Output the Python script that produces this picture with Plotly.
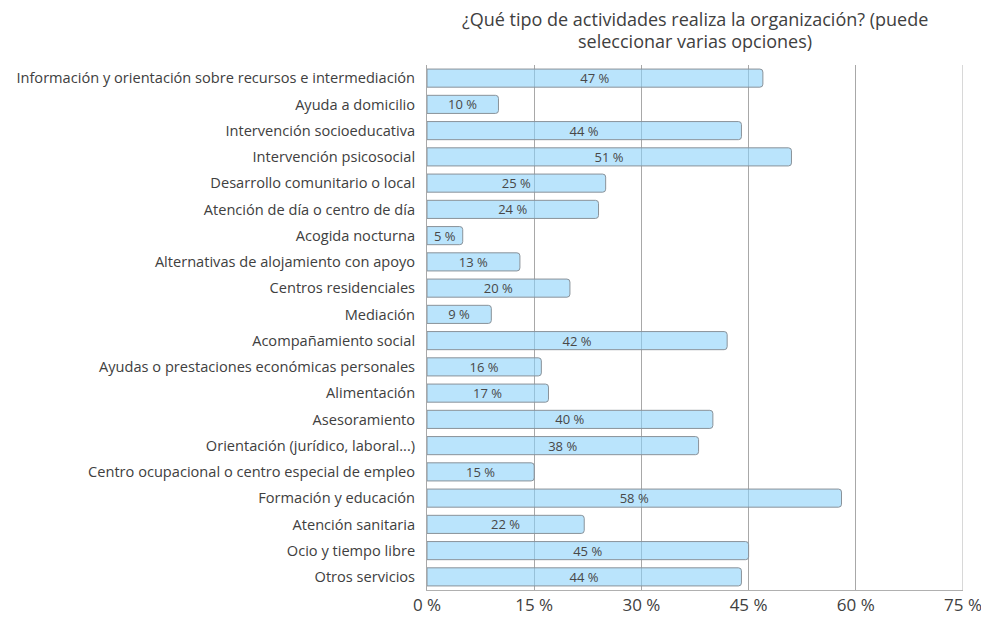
import plotly.graph_objects as go

categories = [
    "Información y orientación sobre recursos e intermediación",
    "Ayuda a domicilio",
    "Intervención socioeducativa",
    "Intervención psicosocial",
    "Desarrollo comunitario o local",
    "Atención de día o centro de día",
    "Acogida nocturna",
    "Alternativas de alojamiento con apoyo",
    "Centros residenciales",
    "Mediación",
    "Acompañamiento social",
    "Ayudas o prestaciones económicas personales",
    "Alimentación",
    "Asesoramiento",
    "Orientación (jurídico, laboral...)",
    "Centro ocupacional o centro especial de empleo",
    "Formación y educación",
    "Atención sanitaria",
    "Ocio y tiempo libre",
    "Otros servicios",
]
values = [47, 10, 44, 51, 25, 24, 5, 13, 20, 9, 42, 16, 17, 40, 38, 15, 58, 22, 45, 44]
tick_vals = [0, 15, 30, 45, 60, 75]
tick_text = ["0 %", "15 %", "30 %", "45 %", "60 %", "75 %"]
title_lines = ["¿Qué tipo de actividades realiza la organización? (puede",
               "seleccionar varias opciones)"]

FONT = "'Open Sans', 'Noto Sans', sans-serif"
TXT = "#404040"

# page body has an 8px default margin, so the figure is sized to the visible area
W, H = 981, 609

fig = go.Figure(go.Bar(
    x=values,
    y=categories,
    orientation="h",
    text=[f"{v} %" for v in values],
    textposition="inside",
    insidetextanchor="middle",
    constraintext="none",
    textfont=dict(family=FONT, size=13, color="#484848"),
    marker=dict(color="rgba(140,210,250,0.6)", line=dict(color="#8a9299", width=1)),
    width=0.69,
    hoverinfo="skip",
))

fig.update_layout(
    width=W, height=H,
    margin=dict(l=419, r=26, t=57, b=27),
    paper_bgcolor="white", plot_bgcolor="white",
    barcornerradius=3,
    showlegend=False,
    font=dict(family=FONT, color=TXT),
)
for yy, line in zip([1.0867, 1.0457], title_lines):
    fig.add_annotation(text=line, x=0.5, xref="paper", y=yy, yref="paper",
                       xanchor="center", yanchor="middle", showarrow=False,
                       font=dict(family=FONT, size=18, color=TXT))
fig.update_xaxes(range=[0, 75], tickvals=tick_vals, ticktext=tick_text,
                 showgrid=True, gridcolor="#a8a8a8", gridwidth=1,
                 showline=True, linecolor="#b0b0b0", linewidth=1,
                 mirror=False, zeroline=False, automargin=False,
                 tickfont=dict(family=FONT, size=17, color=TXT), ticks="")
fig.update_yaxes(autorange="reversed", showgrid=False,
                 showline=True, linecolor="#a8a8a8", linewidth=1,
                 tickfont=dict(family=FONT, size=14.6, color=TXT),
                 ticks="", ticklabelstandoff=8, automargin=False)
fig.add_shape(type="line", xref="x", yref="paper", x0=75, x1=75, y0=0, y1=1,
              line=dict(color="#b0b0b0", width=1), layer="below")

fig.write_html("out.html")
